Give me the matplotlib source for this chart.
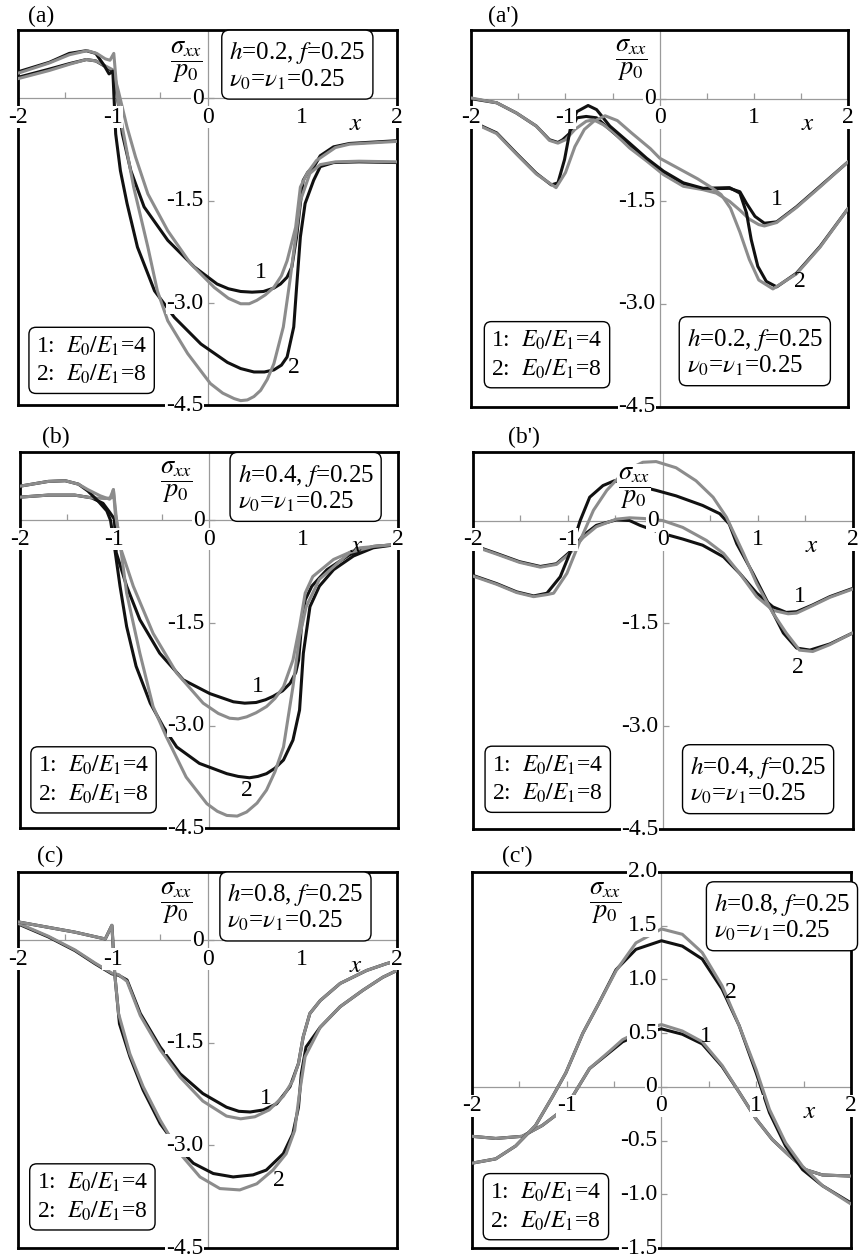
import matplotlib
matplotlib.use('Agg')
import matplotlib.pyplot as plt

plt.rcParams['font.family'] = ['Liberation Serif', 'DejaVu Serif']
plt.rcParams['mathtext.fontset'] = 'stix'

# ---- panel (a): h=0.2, normal stress under the punch ----
a_black1 = ([-2.0, -1.67, -1.46, -1.28, -1.18, -1.07, -1.0, -0.95, -0.90, -0.81, -0.67, -0.42, -0.14, 0.10, 0.22, 0.35, 0.47, 0.59, 0.70, 0.77, 0.84, 0.89, 0.94, 0.98, 1.01, 1.06, 1.12, 1.19, 1.33, 1.5, 2.0],
            [0.31, 0.43, 0.51, 0.57, 0.55, 0.46, 0.40, 0.0, -0.52, -1.06, -1.59, -2.08, -2.47, -2.72, -2.79, -2.83, -2.84, -2.83, -2.78, -2.72, -2.62, -2.47, -2.03, -1.54, -1.20, -1.08, -1.01, -0.84, -0.71, -0.66, -0.62])
a_gray1 = ([-2.0, -1.67, -1.46, -1.28, -1.18, -1.07, -1.0, -0.94, -0.85, -0.76, -0.63, -0.42, -0.18, 0.07, 0.22, 0.35, 0.44, 0.52, 0.61, 0.70, 0.78, 0.84, 0.93, 0.98, 1.05, 1.15, 1.35, 1.5, 2.0],
           [0.29, 0.41, 0.50, 0.57, 0.55, 0.47, 0.42, 0.10, -0.42, -0.86, -1.40, -1.94, -2.42, -2.77, -2.93, -3.01, -3.01, -2.96, -2.88, -2.77, -2.60, -2.38, -1.89, -1.30, -1.10, -0.91, -0.72, -0.67, -0.63])
a_black2 = ([-2.0, -1.67, -1.46, -1.28, -1.18, -1.09, -1.04, -1.0, -0.97, -0.92, -0.85, -0.74, -0.56, -0.35, -0.07, 0.21, 0.35, 0.49, 0.60, 0.70, 0.78, 0.84, 0.91, 0.94, 0.98, 1.03, 1.12, 1.19, 1.33, 1.6, 2.0],
            [0.39, 0.53, 0.66, 0.70, 0.66, 0.48, 0.36, 0.40, -0.52, -1.06, -1.54, -2.18, -2.82, -3.21, -3.60, -3.87, -3.96, -4.01, -4.01, -3.98, -3.91, -3.79, -3.35, -2.77, -2.03, -1.54, -1.20, -1.00, -0.94, -0.93, -0.94])
a_gray2 = ([-2.0, -1.67, -1.46, -1.27, -1.17, -1.08, -1.03, -0.99, -0.95, -0.90, -0.78, -0.63, -0.53, -0.42, -0.21, 0.03, 0.16, 0.28, 0.35, 0.42, 0.49, 0.56, 0.63, 0.70, 0.80, 0.87, 0.93, 0.98, 1.08, 1.19, 1.35, 1.6, 2.0],
           [0.37, 0.52, 0.64, 0.70, 0.66, 0.58, 0.56, 0.66, 0.0, -0.42, -1.30, -2.18, -2.82, -3.26, -3.74, -4.18, -4.32, -4.40, -4.43, -4.42, -4.37, -4.28, -4.12, -3.89, -3.35, -2.67, -2.03, -1.50, -1.10, -0.97, -0.93, -0.92, -0.93])

# ---- panel (a') ----
ap_black1 = ([-2.0, -1.73, -1.52, -1.31, -1.17, -1.08, -1.03, -0.95, -0.88, -0.78, -0.67, -0.53, -0.32, -0.14, 0.04, 0.25, 0.46, 0.74, 0.85, 0.92, 1.01, 1.11, 1.24, 1.45, 1.70, 2.0],
             [0.0, -0.06, -0.21, -0.40, -0.60, -0.64, -0.60, -0.50, -0.28, -0.26, -0.28, -0.45, -0.70, -0.89, -1.09, -1.26, -1.32, -1.31, -1.36, -1.53, -1.72, -1.82, -1.80, -1.58, -1.28, -0.92])
ap_gray1 = ([-2.0, -1.73, -1.52, -1.31, -1.17, -1.08, -1.0, -0.9, -0.78, -0.70, -0.60, -0.50, -0.32, -0.14, 0.04, 0.25, 0.46, 0.60, 0.74, 0.85, 0.95, 1.05, 1.11, 1.24, 1.45, 1.70, 2.0],
            [0.01, -0.06, -0.21, -0.40, -0.61, -0.65, -0.60, -0.45, -0.33, -0.31, -0.38, -0.48, -0.72, -0.91, -1.11, -1.28, -1.33, -1.38, -1.50, -1.63, -1.76, -1.84, -1.86, -1.81, -1.59, -1.29, -0.92])
ap_black2 = ([-2.0, -1.73, -1.52, -1.31, -1.15, -1.08, -1.01, -0.95, -0.88, -0.76, -0.67, -0.53, -0.32, -0.14, 0.04, 0.25, 0.46, 0.74, 0.85, 0.92, 0.97, 1.04, 1.13, 1.24, 1.45, 1.70, 2.0],
             [-0.33, -0.50, -0.80, -1.09, -1.26, -1.23, -0.89, -0.45, -0.19, -0.10, -0.16, -0.40, -0.65, -0.87, -1.06, -1.23, -1.31, -1.30, -1.38, -1.67, -2.06, -2.45, -2.67, -2.75, -2.55, -2.16, -1.60])
ap_gray2 = ([-2.0, -1.73, -1.52, -1.31, -1.10, -1.0, -0.9, -0.8, -0.7, -0.58, -0.45, -0.3, -0.1, 0.0, 0.2, 0.4, 0.55, 0.65, 0.75, 0.85, 0.95, 1.05, 1.2, 1.45, 1.7, 2.0],
            [-0.34, -0.51, -0.81, -1.10, -1.30, -1.08, -0.70, -0.45, -0.33, -0.25, -0.32, -0.50, -0.73, -0.87, -1.02, -1.17, -1.30, -1.40, -1.60, -1.95, -2.35, -2.65, -2.78, -2.56, -2.17, -1.60])

# ---- panel (b): h=0.4 ----
b_black1 = ([-2.0, -1.70, -1.42, -1.24, -1.12, -1.05, -1.0, -0.98, -0.87, -0.73, -0.52, -0.27, 0.01, 0.26, 0.38, 0.50, 0.60, 0.68, 0.78, 0.86, 0.92, 0.95, 0.98, 1.02, 1.09, 1.25, 1.49, 1.74, 2.0],
            [0.34, 0.37, 0.37, 0.33, 0.25, 0.12, 0.02, -0.47, -0.96, -1.45, -1.94, -2.33, -2.53, -2.65, -2.67, -2.66, -2.62, -2.57, -2.49, -2.38, -2.22, -2.04, -1.55, -1.16, -0.96, -0.72, -0.50, -0.38, -0.35])
b_gray1 = ([-2.0, -1.70, -1.42, -1.24, -1.10, -1.03, -1.01, -0.98, -0.94, -0.80, -0.59, -0.34, -0.06, 0.10, 0.22, 0.31, 0.40, 0.50, 0.61, 0.70, 0.79, 0.89, 0.96, 1.02, 1.10, 1.32, 1.60, 2.0],
           [0.34, 0.37, 0.37, 0.33, 0.32, 0.33, 0.45, 0.05, -0.38, -0.96, -1.65, -2.23, -2.67, -2.82, -2.89, -2.90, -2.87, -2.81, -2.72, -2.60, -2.43, -2.04, -1.55, -1.06, -0.82, -0.57, -0.40, -0.35])
b_black2 = ([-2.0, -1.70, -1.52, -1.38, -1.28, -1.17, -1.08, -1.04, -0.99, -0.94, -0.87, -0.77, -0.62, -0.48, -0.34, -0.10, 0.19, 0.31, 0.43, 0.52, 0.61, 0.70, 0.79, 0.89, 0.96, 1.0, 1.07, 1.17, 1.32, 1.53, 1.74, 2.0],
            [0.50, 0.57, 0.58, 0.53, 0.43, 0.28, 0.14, 0.0, -0.47, -0.96, -1.55, -2.13, -2.67, -3.02, -3.31, -3.55, -3.70, -3.74, -3.76, -3.74, -3.70, -3.62, -3.50, -3.21, -2.77, -1.94, -1.26, -0.96, -0.72, -0.52, -0.40, -0.35])
b_gray2 = ([-2.0, -1.70, -1.52, -1.38, -1.28, -1.15, -1.05, -1.01, -0.99, -0.96, -0.87, -0.73, -0.59, -0.45, -0.24, -0.02, 0.09, 0.19, 0.30, 0.40, 0.51, 0.61, 0.70, 0.79, 0.89, 0.96, 1.03, 1.17, 1.49, 1.74, 2.0],
           [0.50, 0.57, 0.58, 0.53, 0.45, 0.36, 0.31, 0.45, 0.1, -0.13, -1.06, -1.94, -2.72, -3.16, -3.75, -4.14, -4.25, -4.31, -4.32, -4.26, -4.13, -3.94, -3.67, -3.31, -2.43, -1.70, -1.26, -0.86, -0.47, -0.38, -0.35])

# ---- panel (b') ----
bp_black1 = ([-2.0, -1.75, -1.51, -1.29, -1.12, -0.98, -0.84, -0.70, -0.49, -0.35, -0.24, 0.0, 0.21, 0.42, 0.64, 0.81, 0.99, 1.16, 1.30, 1.41, 1.58, 1.76, 2.0],
             [-0.36, -0.48, -0.60, -0.67, -0.63, -0.46, -0.22, -0.07, 0.01, 0.0, -0.07, -0.19, -0.27, -0.36, -0.53, -0.77, -1.06, -1.26, -1.34, -1.33, -1.23, -1.11, -0.99])
bp_gray1 = ([-2.0, -1.75, -1.51, -1.29, -1.12, -0.98, -0.84, -0.70, -0.49, -0.35, -0.2, 0.0, 0.21, 0.46, 0.64, 0.81, 0.99, 1.16, 1.32, 1.41, 1.58, 1.76, 2.0],
            [-0.37, -0.49, -0.61, -0.68, -0.64, -0.48, -0.25, -0.09, 0.02, 0.04, 0.03, 0.0, -0.10, -0.29, -0.48, -0.77, -1.11, -1.31, -1.36, -1.35, -1.24, -1.12, -1.0])
bp_black2 = ([-2.0, -1.75, -1.54, -1.36, -1.22, -1.08, -0.98, -0.87, -0.77, -0.63, -0.51, -0.30, -0.07, 0.14, 0.42, 0.60, 0.70, 0.78, 0.95, 1.13, 1.27, 1.41, 1.55, 1.76, 2.0],
             [-0.80, -0.92, -1.04, -1.10, -1.06, -0.82, -0.48, 0.0, 0.34, 0.51, 0.58, 0.52, 0.44, 0.36, 0.22, 0.10, -0.05, -0.34, -0.77, -1.26, -1.64, -1.86, -1.89, -1.80, -1.64])
bp_gray2 = ([-2.0, -1.75, -1.54, -1.36, -1.22, -1.15, -1.01, -0.87, -0.73, -0.59, -0.51, -0.40, -0.21, -0.07, 0.14, 0.35, 0.53, 0.67, 0.85, 0.99, 1.16, 1.30, 1.44, 1.58, 1.76, 2.0],
            [-0.81, -0.93, -1.05, -1.11, -1.08, -1.06, -0.77, -0.29, 0.15, 0.44, 0.56, 0.72, 0.85, 0.86, 0.77, 0.58, 0.34, 0.05, -0.48, -0.92, -1.35, -1.64, -1.89, -1.91, -1.81, -1.64])

# ---- panel (c): h=0.8 ----
c_black1 = ([-2.0, -1.68, -1.40, -1.19, -1.01, -0.94, -0.85, -0.71, -0.50, -0.29, -0.05, 0.20, 0.33, 0.45, 0.59, 0.73, 0.87, 0.96, 1.01, 1.08, 1.19, 1.40, 1.68, 1.89, 2.0],
            [0.24, 0.05, -0.15, -0.34, -0.49, -0.51, -0.58, -1.07, -1.56, -1.95, -2.24, -2.44, -2.50, -2.51, -2.48, -2.39, -2.14, -1.80, -1.41, -1.07, -0.88, -0.63, -0.44, -0.34, -0.30])
c_gray1 = ([-2.0, -1.68, -1.40, -1.19, -1.01, -0.94, -0.85, -0.71, -0.50, -0.29, -0.05, 0.20, 0.35, 0.50, 0.65, 0.80, 0.90, 0.96, 1.01, 1.08, 1.19, 1.40, 1.68, 1.89, 2.0],
           [0.25, 0.06, -0.14, -0.33, -0.48, -0.50, -0.60, -1.10, -1.60, -2.0, -2.35, -2.57, -2.61, -2.58, -2.48, -2.28, -2.05, -1.80, -1.41, -1.07, -0.88, -0.63, -0.44, -0.34, -0.30])
c_black2 = ([-2.0, -1.68, -1.40, -1.08, -1.01, -0.98, -0.93, -0.82, -0.68, -0.50, -0.32, -0.15, 0.06, 0.27, 0.48, 0.62, 0.80, 0.90, 0.96, 0.99, 1.04, 1.19, 1.40, 1.64, 1.85, 2.0],
            [0.27, 0.19, 0.12, 0.02, 0.22, -0.49, -1.22, -1.70, -2.19, -2.68, -3.02, -3.26, -3.41, -3.46, -3.43, -3.36, -3.12, -2.83, -2.44, -1.95, -1.56, -1.27, -0.97, -0.73, -0.54, -0.44])
c_gray2 = ([-2.0, -1.68, -1.40, -1.08, -1.01, -0.98, -0.94, -0.82, -0.68, -0.50, -0.29, -0.08, 0.13, 0.34, 0.52, 0.69, 0.83, 0.92, 0.97, 1.03, 1.19, 1.40, 1.64, 1.85, 2.0],
           [0.27, 0.19, 0.12, 0.02, 0.22, -0.49, -1.07, -1.66, -2.14, -2.63, -3.12, -3.46, -3.63, -3.65, -3.56, -3.36, -3.12, -2.78, -2.24, -1.70, -1.27, -0.97, -0.73, -0.54, -0.44])

# ---- panel (c') ----
cp_x1 = [-2.0, -1.75, -1.47, -1.26, -1.08, -0.94, -0.76, -0.55, -0.41, -0.2, 0.0, 0.22, 0.43, 0.64, 0.82, 1.0, 1.17, 1.35, 1.52, 1.70, 2.0]
cp_black1 = (cp_x1, [-0.46, -0.48, -0.46, -0.36, -0.24, -0.09, 0.17, 0.32, 0.42, 0.50, 0.54, 0.49, 0.40, 0.19, -0.05, -0.30, -0.49, -0.64, -0.77, -0.82, -0.83])
cp_gray1 = (cp_x1, [-0.46, -0.48, -0.46, -0.36, -0.24, -0.09, 0.17, 0.33, 0.44, 0.53, 0.58, 0.52, 0.42, 0.20, -0.05, -0.30, -0.49, -0.64, -0.77, -0.82, -0.83])
cp_x2 = [-2.0, -1.75, -1.54, -1.33, -1.15, -1.01, -0.83, -0.66, -0.48, -0.27, 0.0, 0.22, 0.43, 0.64, 0.82, 1.0, 1.14, 1.31, 1.49, 1.70, 2.0]
cp_black2 = (cp_x2, [-0.71, -0.67, -0.55, -0.36, -0.09, 0.13, 0.50, 0.78, 1.09, 1.28, 1.36, 1.31, 1.19, 0.91, 0.57, 0.13, -0.24, -0.55, -0.77, -0.92, -1.08])
cp_gray2 = (cp_x2, [-0.71, -0.67, -0.55, -0.36, -0.09, 0.13, 0.50, 0.78, 1.08, 1.34, 1.47, 1.42, 1.25, 0.94, 0.57, 0.16, -0.21, -0.52, -0.74, -0.92, -1.09])

x_ticks = [-2, -1, 0, 1, 2]
y_ticks_low = [0, -1.5, -3.0, -4.5]
y_labels_low = ['0', '-1.5', '-3.0', '-4.5']
y_ticks_cp = [2.0, 1.5, 1.0, 0.5, 0, -0.5, -1.0, -1.5]
y_labels_cp = ['2.0', '1.5', '1.0', '0.5', '0', '-0.5', '-1.0', '-1.5']

legend_text = '1:  $E_0/E_1$=4\n2:  $E_0/E_1$=8'
BLACK = '#111111'
GRAY = '#8c8c8c'
AXIS = '#9a9a9a'
FS = 17
LEG_FS = 17
PAR_FS = 18
white = dict(facecolor='white', edgecolor='none', pad=0.5)


def panel(fig, rect, tag, tag_xy, curves, h, ylim, yticks, ylabels,
          num1, num2, leg_xy, par_xy, sig_xy):
    ax = fig.add_axes(rect)
    ax.set_xlim(-2, 2)
    ax.set_ylim(*ylim)
    ax.set_xticks([])
    ax.set_yticks([])
    for s in ax.spines.values():
        s.set_linewidth(2.0)
        s.set_color('black')
    ax.axhline(0, color=AXIS, lw=0.9, zorder=1)
    ax.axvline(0, color=AXIS, lw=0.9, zorder=1)
    ax.plot([-1.5, -1, -0.5, 0.5, 1, 1.5], [0] * 6, ls='none', marker=2,
            ms=4, mew=0.9, color=AXIS, zorder=1)
    ax.plot([0] * len(yticks), yticks, ls='none', marker=1, ms=4, mew=0.9,
            color=AXIS, zorder=1)

    for (x, y), col in zip(curves, [BLACK, GRAY, BLACK, GRAY]):
        ax.plot(x, y, color=col, lw=2.2, solid_joinstyle='round',
                solid_capstyle='round', zorder=3)

    span = ylim[1] - ylim[0]
    for xv in x_ticks:
        ax.annotate(str(xv), (xv, 0), xytext=(0, -6), textcoords='offset points',
                    ha='center', va='top', fontsize=FS, bbox=white, zorder=6,
                    annotation_clip=False)
    for yv, lbl in zip(yticks, ylabels):
        ax.annotate(lbl, (0, yv), xytext=(-3, 0), textcoords='offset points',
                    ha='right', va='center', fontsize=FS, bbox=white, zorder=6,
                    annotation_clip=False)
    ax.text(1.57, -0.067 * span, '$x$', fontsize=FS + 1, ha='center', va='center',
            zorder=6)
    ax.text(*sig_xy, r'$\dfrac{\sigma_{xx}}{p_0}$', transform=ax.transAxes,
            fontsize=FS + 2, ha='center', va='center', bbox=white, zorder=6)
    ax.text(*num1, '1', fontsize=FS, ha='center', va='center', zorder=6)
    ax.text(*num2, '2', fontsize=FS, ha='center', va='center', zorder=6)

    box = dict(boxstyle='round,pad=0.3,rounding_size=0.3', facecolor='white',
               edgecolor='black', lw=1.0)
    ax.text(*leg_xy, legend_text, transform=ax.transAxes, fontsize=LEG_FS,
            ha='center', va='center', multialignment='left', bbox=box,
            zorder=7, linespacing=1.3)
    ax.text(*par_xy, '$h$=%s, $f$=0.25\n$\\nu_0$=$\\nu_1$=0.25' % h,
            transform=ax.transAxes, fontsize=PAR_FS, ha='center', va='center',
            multialignment='left', bbox=box, zorder=7, linespacing=1.05,
            clip_on=False)
    fig.text(tag_xy[0] / 863, 1 - tag_xy[1] / 1259, tag, fontsize=FS,
             ha='left', va='center')
    return ax


def main():
    fig = plt.figure(figsize=(8.63, 12.59), dpi=100)
    low = (-4.5, 1.0)

    panel(fig, [0.021, 0.678, 0.439, 0.298], '(a)', (28, 16),
          [a_black1, a_gray1, a_black2, a_gray2], '0.2', low,
          y_ticks_low, y_labels_low, (0.56, -2.55), (0.91, -3.94),
          (0.194, 0.120), (0.737, 0.906), (0.445, 0.915))
    panel(fig, [0.546, 0.677, 0.437, 0.299], "(a')", (488, 16),
          [ap_black1, ap_gray1, ap_black2, ap_gray2], '0.2', low,
          y_ticks_low, y_labels_low, (1.24, -1.48), (1.49, -2.67),
          (0.201, 0.138), (0.752, 0.145), (0.426, 0.920))
    panel(fig, [0.023, 0.342, 0.438, 0.299], '(b)', (42, 437),
          [b_black1, b_gray1, b_black2, b_gray2], '0.4', low,
          y_ticks_low, y_labels_low, (0.52, -2.43), (0.40, -3.94),
          (0.195, 0.129), (0.756, 0.905), (0.415, 0.921))
    panel(fig, [0.548, 0.3415, 0.440, 0.2995], "(b')", (508, 437),
          [bp_black1, bp_gray1, bp_black2, bp_gray2], '0.4', low,
          y_ticks_low, y_labels_low, (1.44, -1.11), (1.42, -2.15),
          (0.197, 0.132), (0.751, 0.130), (0.424, 0.904))
    panel(fig, [0.021, 0.0087, 0.439, 0.2987], '(c)', (37, 856),
          [c_black1, c_gray1, c_black2, c_gray2], '0.8', low,
          y_ticks_low, y_labels_low, (0.62, -2.31), (0.75, -3.51),
          (0.196, 0.136), (0.732, 0.906), (0.419, 0.917))
    panel(fig, [0.547, 0.0087, 0.439, 0.2987], "(c')", (502, 856),
          [cp_black1, cp_gray1, cp_black2, cp_gray2], '0.8', (-1.5, 2.0),
          y_ticks_cp, y_labels_cp, (0.47, 0.47), (0.73, 0.88),
          (0.195, 0.110), (0.818, 0.880), (0.353, 0.917))

    fig.savefig('out.png', dpi=100)


if __name__ == '__main__':
    main()
